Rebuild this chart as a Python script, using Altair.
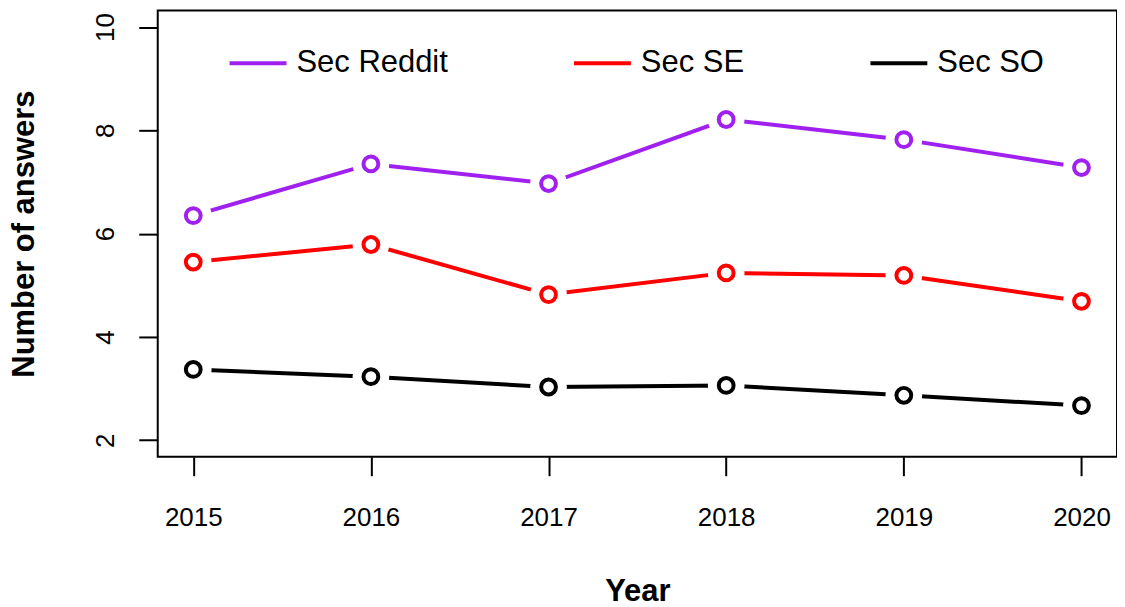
import altair as alt
import pandas as pd

years = [2015, 2016, 2017, 2018, 2019, 2020]
series_names = ["Sec Reddit", "Sec SE", "Sec SO"]
reddit = [6.35, 7.35, 6.97, 8.21, 7.82, 7.28]
se = [5.45, 5.79, 4.82, 5.24, 5.19, 4.69]
so = [3.37, 3.23, 3.03, 3.06, 2.87, 2.67]
colors = ["#A020F0", "#FF0000", "#000000"]
y_ticks = [2, 4, 6, 8, 10]

rows = []
for name, vals in zip(series_names, [reddit, se, so]):
    for yr, v in zip(years, vals):
        rows.append({"Year": yr, "Value": v, "Series": name})
df = pd.DataFrame(rows)

FONT = "Liberation Sans"

xscale = alt.Scale(domain=[2014.8, 2020.2], nice=False, zero=False)
yscale = alt.Scale(domain=[1.68, 10.32], nice=False, zero=False)

xaxis = alt.Axis(
    values=years, format="d", title="Year", grid=False, domain=False,
    tickSize=19, tickWidth=2, tickColor="black",
    labelFontSize=26, labelPadding=29, labelColor="black", labelFont=FONT,
    titleFontSize=31, titleFontWeight="bold", titleFont=FONT, titleColor="black",
    titleY=135, titleBaseline="middle",
)
yaxis = alt.Axis(
    values=y_ticks, format="d", title="Number of answers", grid=False, domain=False,
    tickSize=19, tickWidth=2, tickColor="black",
    labelFontSize=26, labelPadding=20, labelColor="black", labelFont=FONT,
    labelAngle=270, labelAlign="center", labelBaseline="bottom",
    titleFontSize=31, titleFontWeight="bold", titleFont=FONT, titleColor="black",
    titleAngle=270, titleX=-133, titleBaseline="middle", titleAlign="center",
)

color_scale = alt.Scale(domain=series_names, range=colors)

base = alt.Chart(df).encode(
    x=alt.X("Year:Q", scale=xscale, axis=xaxis),
    y=alt.Y("Value:Q", scale=yscale, axis=yaxis),
)

lines = base.mark_line(strokeWidth=4).encode(
    color=alt.Color(
        "Series:N", scale=color_scale,
        legend=alt.Legend(
            title=None, orient="none", legendX=70, legendY=22,
            direction="horizontal", columns=3, columnPadding=118,
            symbolType="stroke", symbolSize=3249, symbolStrokeWidth=4,
            labelFontSize=31, labelFont=FONT, labelColor="black", labelOffset=8,
            padding=0,
        ),
    )
)

halo = base.mark_circle(color="white", size=1350, opacity=1).encode(
    detail="Series:N"
)

points = base.mark_point(shape="circle", filled=False, size=220, strokeWidth=4, opacity=1).encode(
    stroke=alt.Stroke("Series:N", scale=color_scale, legend=None)
)

chart = alt.layer(lines, halo, points).properties(
    width=961, height=447,
    autosize=alt.AutoSizeParams(type="none"),
    padding={"left": 150, "top": 2, "right": 0, "bottom": 152},
).configure(
    background="white",
    view=alt.ViewConfig(stroke="black", strokeWidth=2),
)

chart.save("out.html", embed_options={"renderer": "svg", "actions": False})
